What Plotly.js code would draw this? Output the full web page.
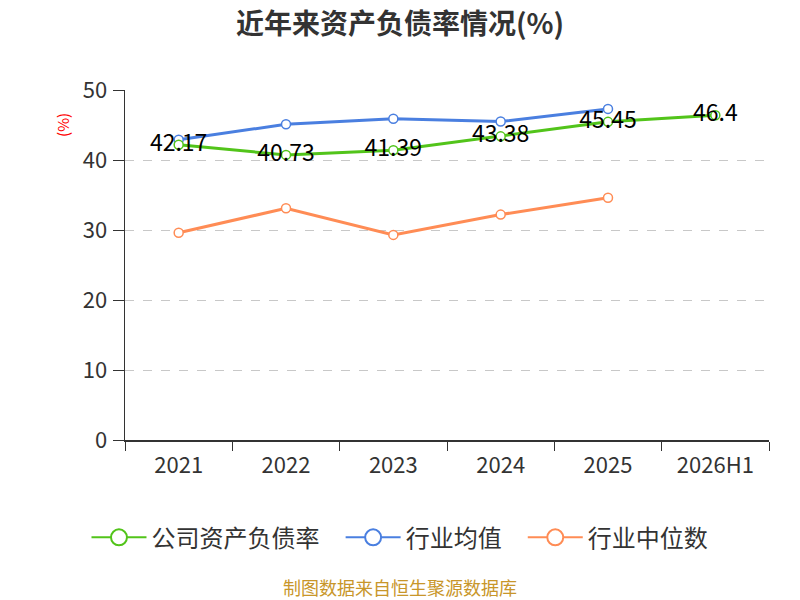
<!DOCTYPE html>
<html>
<head>
<meta charset="utf-8">
<script src="https://cdn.plot.ly/plotly-3.0.1.min.js"></script>
<style>
  html, body { margin: 0; padding: 0; background: #fff; }
  #chart { width: 800px; height: 600px; }
</style>
</head>
<body>
<div id="chart"></div>
<script>
// kategorier och värden
var years = ['2021', '2022', '2023', '2024', '2025', '2026H1'];
var companyRate = [42.17, 40.73, 41.39, 43.38, 45.45, 46.4];
var industryMean = [42.9, 45.1, 45.9, 45.5, 47.3, null];
var industryMedian = [29.6, 33.1, 29.3, 32.2, 34.6, null];
var companyLabels = ['42.17', '40.73', '41.39', '43.38', '45.45', '46.4'];

var font = '"Noto Sans CJK SC", "Noto Sans", sans-serif';

var green = '#52c41a';
var blue = '#4a7fe0';
var orange = '#ff8c55';

function lineTrace(name, y, color, labels) {
  var t = {
    x: years,
    y: y,
    name: name,
    type: 'scatter',
    mode: labels ? 'lines+markers+text' : 'lines+markers',
    line: { color: color, width: 3 },
    marker: { symbol: 'circle', size: 9, color: '#ffffff', line: { color: color, width: 1.5 } },
    showlegend: false,
    cliponaxis: false,
    hoverinfo: 'x+y'
  };
  if (labels) {
    t.text = labels;
    t.textposition = 'middle center';
    t.textfont = { family: font, size: 23, color: '#000000' };
  }
  return t;
}

// egna legendposter med större cirklar, lite extra luft efter namnet
function legendTrace(name, color, pad) {
  return {
    x: [null], y: [null],
    name: name + pad,
    type: 'scatter',
    mode: 'lines+markers',
    line: { color: color, width: 2 },
    marker: { symbol: 'circle', size: 16, color: '#ffffff', line: { color: color, width: 2 } },
    showlegend: true
  };
}

var data = [
  lineTrace('行业均值', industryMean, blue),
  lineTrace('行业中位数', industryMedian, orange),
  lineTrace('公司资产负债率', companyRate, green, companyLabels),
  legendTrace('公司资产负债率', green, '\u00a0\u00a0\u00a0'),
  legendTrace('行业均值', blue, '\u00a0\u00a0\u00a0'),
  legendTrace('行业中位数', orange, '')
];

var layout = {
  width: 800,
  height: 600,
  margin: { l: 125, r: 31, t: 90, b: 160 },
  paper_bgcolor: '#ffffff',
  plot_bgcolor: '#ffffff',
  font: { family: font, color: '#333333' },
  title: {
    text: '<b>近年来资产负债率情况(%)</b>',
    x: 0.5, xanchor: 'center',
    y: 0.96, yanchor: 'middle',
    font: { family: font, size: 28, color: '#333333' }
  },
  xaxis: {
    type: 'category',
    range: [-0.5, 5.5],
    showgrid: false,
    showline: true,
    linecolor: '#333333',
    linewidth: 1.5,
    ticks: 'outside',
    tickson: 'boundaries',
    ticklen: 9,
    tickcolor: '#333333',
    ticklabelstandoff: 5,
    tickfont: { family: font, size: 22, color: '#333333' },
    fixedrange: true
  },
  yaxis: {
    range: [0, 50],
    dtick: 10,
    showgrid: true,
    gridcolor: '#c8c8c8',
    griddash: 'dash',
    gridwidth: 1,
    zeroline: false,
    showline: true,
    linecolor: '#333333',
    linewidth: 1.5,
    ticks: 'outside',
    ticklen: 11,
    tickcolor: '#333333',
    ticklabelstandoff: 1,
    tickfont: { family: font, size: 22, color: '#333333' },
    fixedrange: true
  },
  legend: {
    orientation: 'h',
    x: 0.427, xanchor: 'center',
    y: -0.215, yanchor: 'top',
    font: { family: font, size: 24, color: '#333333' },
    itemwidth: 55,
    traceorder: 'normal'
  },
  annotations: [
    {
      text: '(%)',
      xref: 'paper', yref: 'paper',
      x: -0.098, y: 0.9,
      xanchor: 'center', yanchor: 'middle',
      textangle: -90,
      showarrow: false,
      font: { family: font, size: 15, color: '#ff0000' }
    },
    {
      text: '制图数据来自恒生聚源数据库',
      xref: 'paper', yref: 'paper',
      x: 0.5, y: -0.42,
      xanchor: 'center', yanchor: 'middle',
      xshift: -47,
      showarrow: false,
      font: { family: font, size: 18, color: '#c8962a' }
    }
  ]
};

Plotly.newPlot('chart', data, layout, { displayModeBar: false, staticPlot: true });
</script>
</body>
</html>
